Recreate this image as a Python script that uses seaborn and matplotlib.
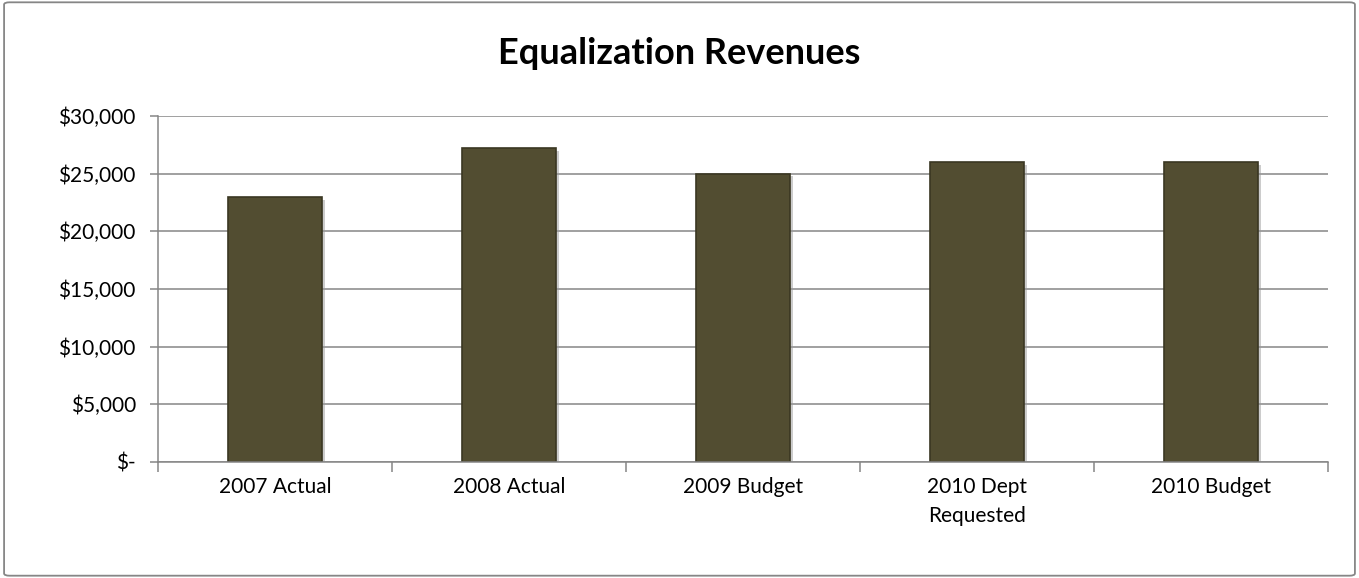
import matplotlib
matplotlib.use("Agg")
import matplotlib.pyplot as plt
import matplotlib.patheffects as pe
from matplotlib.patches import FancyBboxPatch
from matplotlib.ticker import FuncFormatter
import seaborn as sns
import pandas as pd

# data
categories = ["2007 Actual", "2008 Actual", "2009 Budget", "2010 Dept\nRequested", "2010 Budget"]
revenues = [23000, 27200, 25000, 26000, 26000]

df = pd.DataFrame({"Category": categories, "Revenue": revenues})

sns.set_theme(style="white")
plt.rcParams["font.family"] = ["Lato", "DejaVu Sans"]

fig = plt.figure(figsize=(13.59, 5.78), dpi=100)
ax = fig.add_axes([0.1163, 0.2007, 0.8609, 0.5986])

sns.barplot(data=df, x="Category", y="Revenue", color="#524D31", width=0.405,
            edgecolor="#3a3722", linewidth=1.2, saturation=1, ax=ax)

for bar in ax.patches:
    bar.set_path_effects([pe.SimplePatchShadow(offset=(2, -2), shadow_rgbFace="#9a9a9a", alpha=0.5),
                          pe.Normal()])

ax.set_ylim(0, 30000)
ax.set_xlim(-0.5, len(categories) - 0.5)
ax.set_yticks(range(0, 30001, 5000))


def money(v, pos):
    if v == 0:
        return "$-"
    return "${:,.0f}".format(v)


ax.yaxis.set_major_formatter(FuncFormatter(money))

# gridlines
ax.yaxis.grid(True, color="#868686", linewidth=1.1)
ax.set_axisbelow(True)

for side in ["top", "right"]:
    ax.spines[side].set_visible(False)
for side in ["left", "bottom"]:
    ax.spines[side].set_color("#868686")
    ax.spines[side].set_linewidth(1.1)

# category boundary ticks on the x axis
ax.set_xticks([i - 0.5 for i in range(len(categories) + 1)], minor=True)
ax.tick_params(axis="x", which="minor", length=7, color="#868686", width=1.1, direction="out", bottom=True)
ax.tick_params(axis="x", which="major", length=0, labelsize=15, pad=11, colors="black")
ax.tick_params(axis="y", which="major", length=6, color="#868686", width=1.1, direction="out",
               left=True, labelsize=15, pad=10, colors="black")
for lbl in ax.get_xticklabels():
    lbl.set_linespacing(1.55)

ax.set_xlabel("")
ax.set_ylabel("")

fig.text(0.5, 0.907, "Equalization Revenues", ha="center", va="center",
         fontsize=26, fontweight="bold", color="black")

# chart border
border = FancyBboxPatch((0.003, 0.004), 0.994, 0.992, boxstyle="round,pad=0,rounding_size=0.004",
                        transform=fig.transFigure, fill=False, edgecolor="#868686", linewidth=1.3)
fig.add_artist(border)

fig.savefig("out.png", dpi=100, facecolor="white")
